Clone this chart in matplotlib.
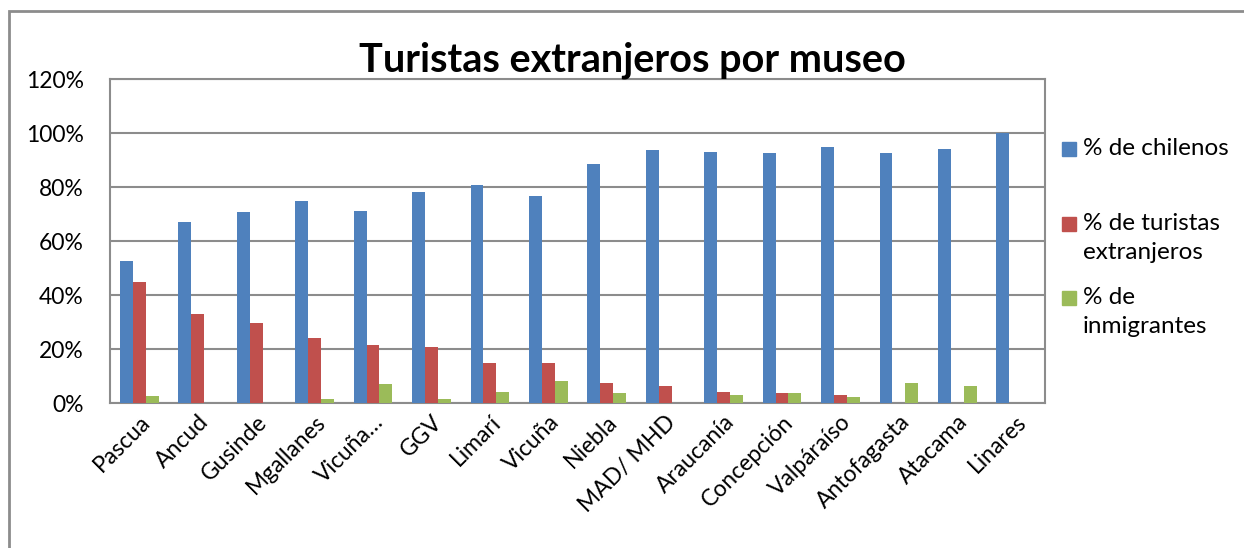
import matplotlib
matplotlib.use("Agg")
import matplotlib.pyplot as plt
import numpy as np
from matplotlib.patches import Rectangle
from matplotlib.ticker import PercentFormatter

museos = ["Pascua", "Ancud", "Gusinde", "Mgallanes", "Vicuña…", "GGV", "Limarí", "Vicuña",
          "Niebla", "MAD/ MHD", "Araucanía", "Concepción", "Valpáraíso", "Antofagasta",
          "Atacama", "Linares"]
chilenos = [52.6, 67.0, 70.7, 74.8, 71.2, 78.0, 80.7, 76.7, 88.5, 93.7, 93.0, 92.7, 95.0, 92.6, 94.0, 100.0]
turistas = [44.8, 33.0, 29.6, 24.0, 21.5, 20.7, 14.8, 14.8, 7.4, 6.3, 4.1, 3.6, 3.0, 0.0, 0.0, 0.0]
inmigrantes = [2.6, 0.0, 0.0, 1.5, 7.0, 1.5, 4.2, 8.2, 3.8, 0.0, 2.8, 3.6, 2.1, 7.4, 6.2, 0.0]
series = [("% de chilenos", "% de chilenos", "#4F81BD"),
          ("% de turistas\nextranjeros", "% de turistas extranjeros", "#C0504D"),
          ("% de\ninmigrantes", "% de inmigrantes", "#9BBB59")]

plt.rcParams['font.family'] = ['Lato', 'DejaVu Sans']

W, H = 1244, 548
fig = plt.figure(figsize=(W / 100, H / 100), dpi=100)
ax = fig.add_axes([110/W, 1 - 403/H, 935/W, 324/H])

x = np.arange(len(museos))
w = 0.22
for i, vals in enumerate([chilenos, turistas, inmigrantes]):
    ax.bar(x + (i - 1) * w, vals, w, color=series[i][2], label=series[i][1], zorder=3)

ax.set_xlim(-0.5, len(museos) - 0.5)
ax.set_ylim(0, 120)
ax.set_yticks(np.arange(0, 121, 20))
ax.yaxis.set_major_formatter(PercentFormatter(decimals=0))
ax.grid(axis="y", color="#8c8c8c", linewidth=1.5, zorder=0)
for s in ax.spines.values():
    s.set_color("#8c8c8c")
    s.set_linewidth(1.5)
ax.tick_params(axis="y", length=0, labelsize=16.5, pad=19)
ax.tick_params(axis="x", length=0, labelsize=16.5, pad=6)
ax.set_xticks(x)
ax.set_xticklabels(museos, rotation=45, ha="right", rotation_mode="anchor")

fig.text(632/W, 1 - 60/H, "Turistas extranjeros por museo", ha="center", va="center",
         fontsize=28.5, fontweight="bold")

# legend, placed like the spreadsheet one (square aligned with first line)
leg_y = [149, 224, 298]
for (lab, _, col), yy in zip(series, leg_y):
    fig.patches.append(Rectangle((1062/W, 1 - (yy + 7)/H), 14/W, 14/H,
                                 transform=fig.transFigure, color=col))
    fig.text(1083/W, 1 - (yy - 11)/H, lab, ha="left", va="top", fontsize=17.5, linespacing=1.45)

fig.patches.append(Rectangle((9/W, -0.05), 1.0, 1 - 11/H + 0.05, transform=fig.transFigure,
                             fill=False, edgecolor="#8c8c8c", linewidth=2))

fig.savefig("out.png", dpi=100)
